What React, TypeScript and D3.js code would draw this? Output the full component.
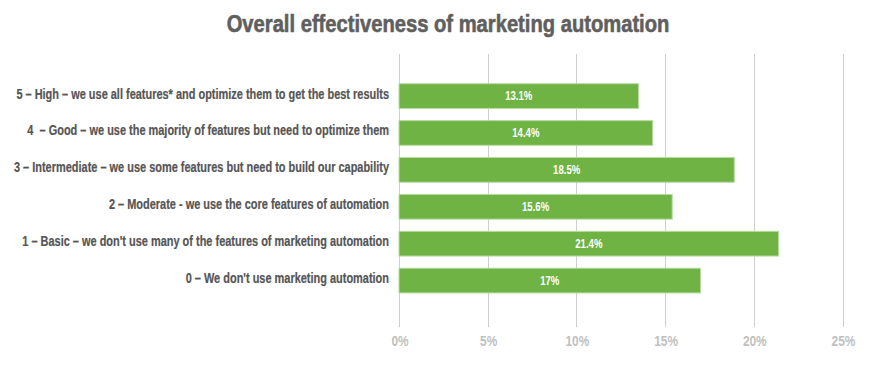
import { useEffect, useRef } from "react";
import * as d3 from "d3";

const title = "Overall effectiveness of marketing automation";

const categories = [
  "5 – High – we use all features* and optimize them to get the best results",
  "4  – Good – we use the majority of features but need to optimize them",
  "3 – Intermediate – we use some features but need to build our capability",
  "2 – Moderate - we use the core features of automation",
  "1 – Basic – we don't use many of the features of marketing automation",
  "0 – We don't use marketing automation",
];

// bar lengths as drawn in the picture (percent)
const values = [13.5, 14.3, 18.9, 15.4, 21.4, 17.0];
// labels printed on the bars
const valueLabels = ["13.1%", "14.4%", "18.5%", "15.6%", "21.4%", "17%"];

const ticks = [0, 5, 10, 15, 20, 25];

const FONT = "'Liberation Sans', Arial, sans-serif";

const Chart = () => {
  const ref = useRef(null);
  const width = 874;
  const height = 369;

  useEffect(() => {
    const svg = d3.select(ref.current);
    svg.selectAll("*").remove();

    const x = d3.scaleLinear().domain([0, 25]).range([399, 842.5]);
    const y = d3
      .scaleBand()
      .domain(categories)
      .range([65.25, 311.4])
      .paddingInner(0.33)
      .paddingOuter(0.5);

    // condensed look: squeeze text horizontally
    const titleG = svg.append("g");
    const titleText = titleG
      .append("text")
      .attr("text-anchor", "middle")
      .attr("font-family", FONT)
      .attr("font-weight", "bold")
      .attr("font-size", 24)
      .attr("fill", "#5f5f5f")
      .attr("stroke", "#5f5f5f")
      .attr("stroke-width", 0.6)
      .text(title);
    const tk = 443 / titleText.node().getComputedTextLength();
    titleG.attr("transform", `translate(448,32) scale(${tk},1)`);

    // grid
    svg
      .append("g")
      .selectAll("line")
      .data(ticks)
      .join("line")
      .attr("x1", (d) => Math.round(x(d)) + 0.5)
      .attr("x2", (d) => Math.round(x(d)) + 0.5)
      .attr("y1", 54)
      .attr("y2", 327)
      .attr("stroke", "#cfcfcf")
      .attr("stroke-width", 1);

    // category labels
    const labels = svg
      .append("g")
      .selectAll("text")
      .data(categories)
      .join("text")
      .attr("text-anchor", "end")
      .attr("font-family", FONT)
      .attr("font-weight", "bold")
      .attr("font-size", 14)
      .attr("fill", "#555555")
      .attr("stroke", "#555555")
      .attr("stroke-width", 0.2)
      .style("white-space", "pre")
      .text((d) => d);
    const k = 373 / labels.nodes()[0].getComputedTextLength();
    labels.attr(
      "transform",
      (d) => `translate(389,${y(d) + y.bandwidth() / 2 + 2.5}) scale(${k},1)`
    );

    // tick labels
    svg
      .append("g")
      .selectAll("text")
      .data(ticks)
      .join("text")
      .attr("transform", (d) => `translate(${x(d) + 1},345.5) scale(0.85,1)`)
      .attr("text-anchor", "middle")
      .attr("font-family", FONT)
      .attr("font-weight", "bold")
      .attr("font-size", 14)
      .attr("fill", "#c0c0c0")
      .text((d) => d + "%");

    // bars
    const bars = svg.append("g");
    bars
      .selectAll("rect")
      .data(values)
      .join("rect")
      .attr("x", x(0))
      .attr("y", (d, i) => y(categories[i]))
      .attr("width", (d) => x(d) - x(0))
      .attr("height", y.bandwidth())
      .attr("fill", "#6fb344")
      .attr("stroke", "#b8dca2")
      .attr("stroke-width", 1);

    bars
      .selectAll("text")
      .data(values)
      .join("text")
      .attr(
        "transform",
        (d, i) =>
          `translate(${(x(d) + x(0)) / 2},${
            y(categories[i]) + y.bandwidth() / 2 + 4
          }) scale(0.8,1)`
      )
      .attr("text-anchor", "middle")
      .attr("font-family", FONT)
      .attr("font-weight", "bold")
      .attr("font-size", 12)
      .attr("fill", "#ffffff")
      .text((d, i) => valueLabels[i]);
  }, []);

  return (
    <svg
      ref={ref}
      width={width}
      height={height}
      style={{ position: "absolute", left: 0, top: 0, background: "#fff" }}
    ></svg>
  );
};

export default function App() {
  return <Chart />;
}
